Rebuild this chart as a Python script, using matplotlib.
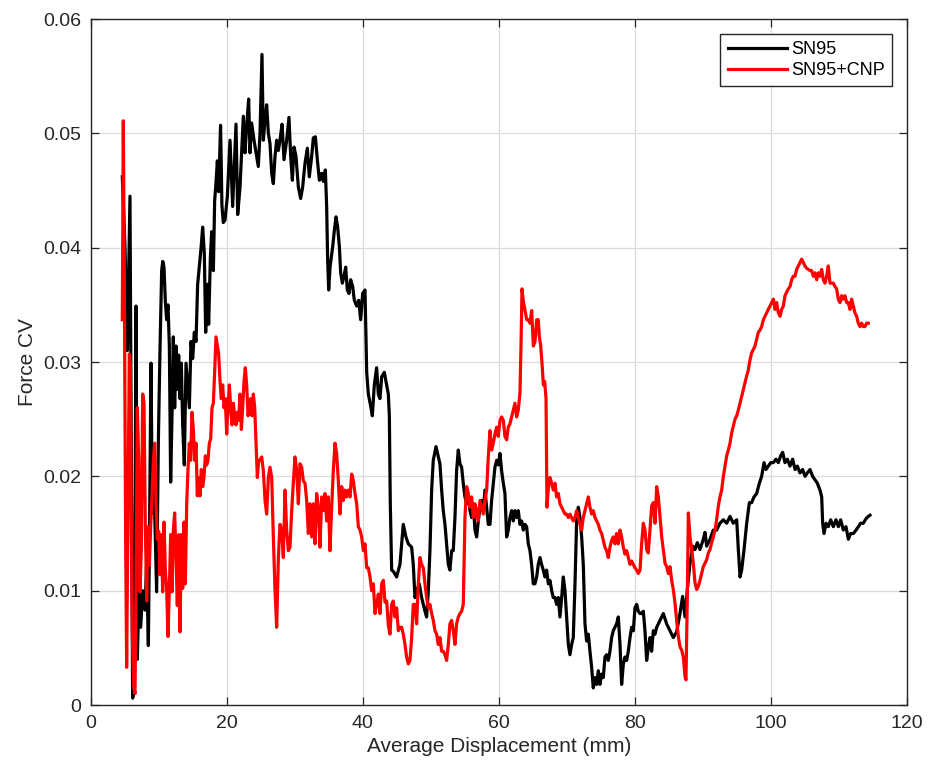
import matplotlib
matplotlib.use("Agg")
import matplotlib.pyplot as plt
import numpy as np

plt.rcParams['font.family'] = ['Liberation Sans', 'DejaVu Sans']

# (displacement mm, force CV)
sn95 = [
    (4.65, 0.0462), (5.05, 0.0400), (5.39, 0.0310), (5.78, 0.0445), (6.03, 0.0150), (6.17, 0.0006),
    (6.42, 0.0014), (6.66, 0.0349), (6.86, 0.0040), (7.11, 0.0100), (7.35, 0.0068), (7.65, 0.0100),
    (7.99, 0.0083), (8.23, 0.0125), (8.48, 0.0052), (8.63, 0.0137), (8.87, 0.0299), (9.07, 0.0168),
    (9.31, 0.0195), (9.70, 0.0099), (9.95, 0.0230), (10.19, 0.0310), (10.44, 0.0380), (10.60, 0.0388),
    (10.78, 0.0383), (10.98, 0.0353), (11.17, 0.0337), (11.37, 0.0350), (11.57, 0.0314), (11.76, 0.0195),
    (11.96, 0.0253), (12.15, 0.0322), (12.35, 0.0260), (12.55, 0.0314), (12.74, 0.0276), (12.94, 0.0306),
    (13.14, 0.0268), (13.33, 0.0299), (13.53, 0.0245), (13.77, 0.0210), (14.02, 0.0299), (14.26, 0.0280),
    (14.51, 0.0260), (14.75, 0.0318), (15.00, 0.0303), (15.24, 0.0326), (15.49, 0.0318), (15.73, 0.0368),
    (15.98, 0.0384), (16.22, 0.0399), (16.47, 0.0418), (16.71, 0.0395), (16.91, 0.0326), (17.15, 0.0368),
    (17.35, 0.0333), (17.60, 0.0391), (17.79, 0.0414), (18.04, 0.0380), (18.23, 0.0441), (18.43, 0.0457),
    (18.63, 0.0476), (18.82, 0.0449), (19.10, 0.0507), (19.30, 0.0437), (19.50, 0.0422), (19.75, 0.0424),
    (20.10, 0.0445), (20.49, 0.0494), (20.88, 0.0436), (21.37, 0.0508), (21.62, 0.0429), (21.96, 0.0453),
    (22.45, 0.0515), (22.69, 0.0483), (22.94, 0.0506), (23.23, 0.0530), (23.43, 0.0483), (23.67, 0.0509),
    (24.02, 0.0494), (24.41, 0.0480), (24.65, 0.0471), (24.90, 0.0500), (25.19, 0.0569), (25.39, 0.0494),
    (25.64, 0.0512), (25.88, 0.0525), (26.13, 0.0500), (26.37, 0.0491), (26.62, 0.0465), (26.86, 0.0456),
    (27.11, 0.0480), (27.35, 0.0494), (27.60, 0.0485), (27.84, 0.0494), (28.14, 0.0508), (28.43, 0.0477),
    (28.82, 0.0494), (29.16, 0.0514), (29.41, 0.0480), (29.66, 0.0459), (29.90, 0.0488), (30.19, 0.0480),
    (30.54, 0.0453), (30.88, 0.0443), (31.17, 0.0453), (31.52, 0.0474), (31.86, 0.0487), (32.15, 0.0462),
    (32.50, 0.0480), (32.74, 0.0496), (33.04, 0.0497), (33.33, 0.0477), (33.63, 0.0459), (33.97, 0.0465),
    (34.21, 0.0458), (34.51, 0.0468), (34.70, 0.0436), (34.85, 0.0389), (35.00, 0.0363), (35.20, 0.0383),
    (35.59, 0.0401), (35.83, 0.0415), (36.08, 0.0427), (36.32, 0.0418), (36.57, 0.0401), (36.76, 0.0378),
    (37.01, 0.0369), (37.25, 0.0375), (37.50, 0.0383), (37.74, 0.0363), (37.99, 0.0360), (38.23, 0.0372),
    (38.53, 0.0366), (38.77, 0.0354), (39.12, 0.0349), (39.41, 0.0354), (39.70, 0.0337), (40.00, 0.0360),
    (40.34, 0.0363), (40.59, 0.0291), (40.83, 0.0272), (41.22, 0.0260), (41.42, 0.0253), (41.71, 0.0280),
    (42.05, 0.0295), (42.30, 0.0272), (42.54, 0.0268), (42.79, 0.0287), (43.18, 0.0291), (43.53, 0.0280),
    (43.77, 0.0272), (43.92, 0.0253), (44.06, 0.0176), (44.26, 0.0118), (44.50, 0.0117), (44.99, 0.0112),
    (45.48, 0.0123), (45.97, 0.0158), (46.36, 0.0147), (46.71, 0.0141), (47.20, 0.0138), (47.44, 0.0123),
    (47.69, 0.0094), (47.93, 0.0100), (48.32, 0.0106), (48.67, 0.0094), (49.16, 0.0082), (49.40, 0.0077),
    (49.65, 0.0100), (49.89, 0.0135), (50.14, 0.0188), (50.38, 0.0214), (50.78, 0.0226), (51.12, 0.0217),
    (51.36, 0.0211), (51.61, 0.0188), (51.85, 0.0170), (52.10, 0.0158), (52.34, 0.0141), (52.59, 0.0123),
    (52.83, 0.0118), (53.08, 0.0135), (53.32, 0.0135), (53.57, 0.0164), (53.81, 0.0205), (54.06, 0.0223),
    (54.30, 0.0211), (54.55, 0.0208), (54.79, 0.0194), (55.04, 0.0182), (55.29, 0.0176), (55.53, 0.0185),
    (55.78, 0.0170), (56.02, 0.0164), (56.27, 0.0176), (56.51, 0.0153), (56.76, 0.0147), (57.00, 0.0161),
    (57.25, 0.0173), (57.49, 0.0179), (57.74, 0.0170), (57.98, 0.0188), (58.23, 0.0173), (58.47, 0.0158),
    (58.72, 0.0158), (58.96, 0.0179), (59.21, 0.0194), (59.45, 0.0208), (59.70, 0.0214), (59.94, 0.0210),
    (60.19, 0.0220), (60.43, 0.0205), (60.68, 0.0194), (60.92, 0.0185), (61.17, 0.0147), (61.41, 0.0153),
    (61.66, 0.0164), (61.90, 0.0170), (62.15, 0.0161), (62.39, 0.0170), (62.64, 0.0164), (62.88, 0.0170),
    (63.13, 0.0158), (63.37, 0.0161), (63.62, 0.0153), (63.86, 0.0158), (64.11, 0.0156), (64.35, 0.0141),
    (64.60, 0.0135), (64.84, 0.0123), (65.09, 0.0106), (65.33, 0.0106), (65.58, 0.0112), (65.82, 0.0123),
    (66.07, 0.0129), (66.31, 0.0123), (66.56, 0.0118), (66.80, 0.0112), (67.05, 0.0118), (67.30, 0.0106),
    (67.54, 0.0109), (67.79, 0.0100), (68.03, 0.0094), (68.28, 0.0094), (68.52, 0.0088), (68.77, 0.0094),
    (69.01, 0.0077), (69.26, 0.0094), (69.50, 0.0112), (69.75, 0.0100), (69.99, 0.0077), (70.24, 0.0053),
    (70.48, 0.0044), (70.73, 0.0053), (70.97, 0.0059), (71.22, 0.0106), (71.46, 0.0161), (71.71, 0.0173),
    (71.95, 0.0164), (72.20, 0.0147), (72.44, 0.0123), (72.69, 0.0071), (72.93, 0.0056), (73.18, 0.0062),
    (73.42, 0.0047), (73.67, 0.0033), (73.91, 0.0015), (74.16, 0.0024), (74.40, 0.0018), (74.65, 0.0030),
    (74.89, 0.0018), (75.14, 0.0027), (75.38, 0.0024), (75.63, 0.0042), (75.87, 0.0044), (76.12, 0.0039),
    (76.36, 0.0047), (76.61, 0.0059), (76.85, 0.0065), (77.10, 0.0068), (77.34, 0.0071), (77.59, 0.0077),
    (77.84, 0.0053), (78.08, 0.0018), (78.33, 0.0036), (78.57, 0.0042), (78.82, 0.0039), (79.06, 0.0047),
    (79.31, 0.0059), (79.55, 0.0068), (79.80, 0.0065), (80.04, 0.0085), (80.29, 0.0088), (80.53, 0.0082),
    (80.78, 0.0080), (81.02, 0.0080), (81.27, 0.0082), (81.51, 0.0065), (81.76, 0.0039), (82.00, 0.0050),
    (82.25, 0.0059), (82.49, 0.0047), (82.74, 0.0065), (82.98, 0.0062), (83.23, 0.0068), (83.72, 0.0074),
    (84.21, 0.0080), (84.70, 0.0071), (85.19, 0.0065), (85.68, 0.0059), (86.17, 0.0064), (86.66, 0.0080),
    (87.05, 0.0095), (87.40, 0.0077), (87.74, 0.0101), (88.13, 0.0124), (88.53, 0.0139), (88.87, 0.0136),
    (89.21, 0.0142), (89.60, 0.0136), (90.09, 0.0145), (90.34, 0.0151), (90.58, 0.0139), (91.07, 0.0145),
    (91.56, 0.0153), (92.05, 0.0153), (92.54, 0.0159), (93.04, 0.0162), (93.53, 0.0159), (94.02, 0.0165),
    (94.51, 0.0159), (95.00, 0.0162), (95.24, 0.0136), (95.49, 0.0112), (95.73, 0.0118), (96.08, 0.0136),
    (96.47, 0.0159), (96.86, 0.0177), (97.20, 0.0177), (97.54, 0.0182), (97.94, 0.0185), (98.33, 0.0194),
    (98.67, 0.0200), (99.02, 0.0212), (99.31, 0.0206), (99.65, 0.0209), (100.00, 0.0212), (100.39, 0.0212),
    (100.78, 0.0215), (101.12, 0.0212), (101.47, 0.0218), (101.76, 0.0221), (102.10, 0.0212), (102.45, 0.0215),
    (102.84, 0.0209), (103.23, 0.0215), (103.58, 0.0206), (103.92, 0.0209), (104.31, 0.0203), (104.70, 0.0206),
    (105.05, 0.0200), (105.39, 0.0203), (105.78, 0.0206), (106.17, 0.0200), (106.52, 0.0197), (106.86, 0.0194),
    (107.25, 0.0188), (107.50, 0.0182), (107.64, 0.0159), (107.84, 0.0150), (108.14, 0.0159), (108.48, 0.0156),
    (108.82, 0.0162), (109.21, 0.0156), (109.60, 0.0162), (109.95, 0.0156), (110.29, 0.0162), (110.68, 0.0153),
    (111.07, 0.0156), (111.42, 0.0145), (111.76, 0.0150), (112.15, 0.0150), (112.55, 0.0153), (112.89, 0.0156),
    (113.23, 0.0159), (113.62, 0.0159), (114.02, 0.0163), (114.36, 0.0165), (114.60, 0.0166),
]

sn95_cnp = [
    (4.65, 0.0337), (4.80, 0.0511), (4.95, 0.0368), (5.15, 0.0137), (5.29, 0.0033), (5.49, 0.0176),
    (5.68, 0.0307), (5.83, 0.0299), (5.98, 0.0152), (6.13, 0.0060), (6.35, 0.0015), (6.52, 0.0010),
    (6.66, 0.0099), (6.86, 0.0260), (7.06, 0.0214), (7.25, 0.0099), (7.45, 0.0137), (7.65, 0.0272),
    (7.84, 0.0264), (8.04, 0.0156), (8.23, 0.0091), (8.43, 0.0156), (8.63, 0.0122), (8.82, 0.0156),
    (9.02, 0.0183), (9.21, 0.0214), (9.41, 0.0229), (9.61, 0.0176), (9.80, 0.0145), (10.00, 0.0152),
    (10.19, 0.0114), (10.39, 0.0149), (10.59, 0.0099), (10.78, 0.0160), (10.98, 0.0118), (11.17, 0.0102),
    (11.37, 0.0060), (11.57, 0.0102), (11.76, 0.0149), (11.96, 0.0099), (12.15, 0.0152), (12.35, 0.0168),
    (12.55, 0.0129), (12.74, 0.0087), (12.94, 0.0149), (13.14, 0.0064), (13.33, 0.0149), (13.53, 0.0102),
    (13.72, 0.0160), (13.92, 0.0106), (14.12, 0.0176), (14.31, 0.0206), (14.51, 0.0229), (14.70, 0.0214),
    (14.90, 0.0256), (15.10, 0.0241), (15.29, 0.0214), (15.49, 0.0229), (15.68, 0.0183), (15.88, 0.0199),
    (16.08, 0.0183), (16.27, 0.0206), (16.47, 0.0191), (16.66, 0.0199), (16.86, 0.0218), (17.06, 0.0210),
    (17.25, 0.0214), (17.45, 0.0229), (17.65, 0.0233), (17.84, 0.0260), (18.04, 0.0264), (18.23, 0.0291),
    (18.43, 0.0322), (18.63, 0.0314), (18.82, 0.0307), (19.02, 0.0283), (19.21, 0.0268), (19.41, 0.0280),
    (19.61, 0.0260), (19.80, 0.0268), (20.00, 0.0237), (20.19, 0.0260), (20.39, 0.0280), (20.59, 0.0260),
    (20.78, 0.0245), (20.98, 0.0264), (21.18, 0.0253), (21.37, 0.0245), (21.57, 0.0256), (21.76, 0.0249),
    (21.96, 0.0272), (22.16, 0.0241), (22.35, 0.0260), (22.55, 0.0283), (22.74, 0.0295), (22.94, 0.0280),
    (23.14, 0.0253), (23.33, 0.0260), (23.53, 0.0268), (23.73, 0.0253), (23.92, 0.0272), (24.12, 0.0260),
    (24.31, 0.0229), (24.51, 0.0199), (24.70, 0.0214), (24.90, 0.0214), (25.15, 0.0217), (25.39, 0.0205),
    (25.64, 0.0179), (25.88, 0.0167), (26.13, 0.0199), (26.37, 0.0208), (26.62, 0.0199), (26.86, 0.0147),
    (27.11, 0.0100), (27.35, 0.0068), (27.60, 0.0129), (27.84, 0.0158), (28.09, 0.0153), (28.33, 0.0129),
    (28.58, 0.0188), (28.82, 0.0153), (29.07, 0.0135), (29.31, 0.0138), (29.56, 0.0170), (29.80, 0.0194),
    (30.05, 0.0217), (30.29, 0.0205), (30.54, 0.0176), (30.78, 0.0211), (31.03, 0.0208), (31.27, 0.0196),
    (31.52, 0.0194), (31.76, 0.0179), (32.01, 0.0150), (32.25, 0.0176), (32.50, 0.0147), (32.74, 0.0176),
    (32.99, 0.0141), (33.23, 0.0185), (33.48, 0.0173), (33.72, 0.0138), (33.97, 0.0182), (34.21, 0.0170),
    (34.46, 0.0185), (34.70, 0.0161), (34.95, 0.0182), (35.19, 0.0135), (35.44, 0.0173), (35.68, 0.0205),
    (35.93, 0.0229), (36.17, 0.0220), (36.42, 0.0196), (36.66, 0.0167), (36.91, 0.0191), (37.15, 0.0179),
    (37.40, 0.0188), (37.65, 0.0182), (37.89, 0.0188), (38.14, 0.0182), (38.38, 0.0202), (38.63, 0.0196),
    (38.87, 0.0185), (39.12, 0.0176), (39.36, 0.0156), (39.61, 0.0153), (39.85, 0.0147), (40.10, 0.0135),
    (40.34, 0.0141), (40.59, 0.0120), (40.83, 0.0120), (41.08, 0.0112), (41.32, 0.0100), (41.57, 0.0106),
    (41.81, 0.0080), (42.06, 0.0088), (42.30, 0.0097), (42.55, 0.0080), (42.79, 0.0106), (43.04, 0.0109),
    (43.28, 0.0090), (43.53, 0.0091), (43.77, 0.0070), (44.01, 0.0062), (44.26, 0.0088), (44.50, 0.0091),
    (44.75, 0.0077), (44.99, 0.0085), (45.24, 0.0065), (45.48, 0.0068), (45.73, 0.0068), (45.97, 0.0062),
    (46.22, 0.0053), (46.46, 0.0042), (46.71, 0.0036), (46.95, 0.0039), (47.20, 0.0059), (47.44, 0.0088),
    (47.69, 0.0088), (47.93, 0.0071), (48.18, 0.0106), (48.42, 0.0129), (48.67, 0.0123), (48.91, 0.0120),
    (49.16, 0.0106), (49.40, 0.0094), (49.65, 0.0085), (49.89, 0.0088), (50.14, 0.0080), (50.38, 0.0074),
    (50.63, 0.0065), (50.87, 0.0062), (51.12, 0.0053), (51.36, 0.0059), (51.61, 0.0047), (51.85, 0.0047),
    (52.10, 0.0044), (52.34, 0.0039), (52.59, 0.0053), (52.83, 0.0071), (53.08, 0.0074), (53.32, 0.0065),
    (53.57, 0.0053), (53.81, 0.0071), (54.06, 0.0077), (54.30, 0.0080), (54.55, 0.0082), (54.79, 0.0088),
    (55.04, 0.0164), (55.29, 0.0191), (55.53, 0.0185), (55.78, 0.0173), (56.02, 0.0182), (56.27, 0.0164),
    (56.51, 0.0176), (56.76, 0.0170), (57.00, 0.0161), (57.25, 0.0179), (57.49, 0.0173), (57.74, 0.0167),
    (57.98, 0.0179), (58.23, 0.0188), (58.47, 0.0217), (58.72, 0.0240), (58.96, 0.0223), (59.21, 0.0229),
    (59.45, 0.0237), (59.70, 0.0243), (59.94, 0.0235), (60.19, 0.0249), (60.43, 0.0252), (60.68, 0.0249),
    (60.92, 0.0235), (61.17, 0.0232), (61.41, 0.0243), (61.66, 0.0246), (61.90, 0.0252), (62.15, 0.0258),
    (62.39, 0.0264), (62.64, 0.0252), (62.88, 0.0258), (63.13, 0.0273), (63.30, 0.0320), (63.43, 0.0364),
    (63.63, 0.0353), (63.87, 0.0345), (64.12, 0.0337), (64.36, 0.0337), (64.61, 0.0334), (64.85, 0.0345),
    (65.10, 0.0314), (65.34, 0.0318), (65.59, 0.0337), (65.83, 0.0337), (65.98, 0.0322), (66.18, 0.0314),
    (66.37, 0.0299), (66.57, 0.0280), (66.76, 0.0283), (66.96, 0.0268), (67.10, 0.0173), (67.30, 0.0190),
    (67.54, 0.0199), (67.79, 0.0194), (68.03, 0.0188), (68.28, 0.0194), (68.52, 0.0182), (68.77, 0.0185),
    (69.01, 0.0176), (69.26, 0.0173), (69.50, 0.0170), (69.75, 0.0167), (69.99, 0.0167), (70.24, 0.0164),
    (70.48, 0.0167), (70.73, 0.0164), (70.97, 0.0161), (71.22, 0.0164), (71.46, 0.0170), (71.71, 0.0164),
    (71.95, 0.0158), (72.20, 0.0153), (72.44, 0.0164), (72.69, 0.0170), (72.93, 0.0176), (73.18, 0.0182),
    (73.42, 0.0173), (73.67, 0.0167), (73.91, 0.0170), (74.16, 0.0164), (74.40, 0.0161), (74.65, 0.0158),
    (74.89, 0.0153), (75.14, 0.0150), (75.38, 0.0144), (75.63, 0.0138), (75.87, 0.0135), (76.12, 0.0129),
    (76.36, 0.0138), (76.61, 0.0144), (76.85, 0.0147), (77.10, 0.0141), (77.34, 0.0150), (77.59, 0.0141),
    (77.84, 0.0153), (78.08, 0.0147), (78.33, 0.0138), (78.57, 0.0132), (78.82, 0.0135), (79.06, 0.0129),
    (79.31, 0.0123), (79.55, 0.0126), (79.80, 0.0123), (80.04, 0.0120), (80.29, 0.0118), (80.53, 0.0115),
    (80.78, 0.0118), (81.02, 0.0141), (81.27, 0.0159), (81.51, 0.0153), (81.76, 0.0136), (82.00, 0.0133),
    (82.25, 0.0153), (82.50, 0.0174), (82.74, 0.0177), (82.99, 0.0159), (83.23, 0.0191), (83.48, 0.0182),
    (83.72, 0.0165), (83.97, 0.0147), (84.21, 0.0136), (84.46, 0.0124), (84.70, 0.0121), (84.95, 0.0115),
    (85.19, 0.0121), (85.44, 0.0109), (85.68, 0.0101), (85.93, 0.0089), (86.17, 0.0074), (86.42, 0.0060),
    (86.66, 0.0051), (86.91, 0.0048), (87.15, 0.0042), (87.40, 0.0025), (87.54, 0.0022), (87.74, 0.0095),
    (87.89, 0.0168), (88.13, 0.0147), (88.38, 0.0136), (88.62, 0.0124), (88.87, 0.0107), (89.11, 0.0101),
    (89.36, 0.0104), (89.60, 0.0109), (89.85, 0.0115), (90.09, 0.0121), (90.34, 0.0124), (90.58, 0.0127),
    (90.83, 0.0133), (91.07, 0.0136), (91.32, 0.0142), (91.56, 0.0147), (91.81, 0.0153), (92.05, 0.0162),
    (92.30, 0.0174), (92.54, 0.0182), (92.79, 0.0188), (93.04, 0.0200), (93.28, 0.0209), (93.53, 0.0218),
    (93.77, 0.0223), (94.02, 0.0229), (94.26, 0.0238), (94.51, 0.0244), (94.75, 0.0250), (95.00, 0.0253),
    (95.24, 0.0258), (95.49, 0.0264), (95.73, 0.0270), (95.98, 0.0276), (96.22, 0.0282), (96.47, 0.0288),
    (96.71, 0.0293), (96.96, 0.0302), (97.20, 0.0308), (97.45, 0.0311), (97.69, 0.0314), (97.94, 0.0320),
    (98.18, 0.0326), (98.43, 0.0328), (98.67, 0.0331), (98.92, 0.0337), (99.16, 0.0340), (99.41, 0.0343),
    (99.65, 0.0346), (99.90, 0.0349), (100.14, 0.0352), (100.39, 0.0355), (100.63, 0.0346), (100.88, 0.0352),
    (101.12, 0.0343), (101.37, 0.0340), (101.61, 0.0346), (101.86, 0.0349), (102.10, 0.0358), (102.35, 0.0361),
    (102.59, 0.0364), (102.84, 0.0366), (103.08, 0.0372), (103.33, 0.0375), (103.57, 0.0375), (103.82, 0.0381),
    (104.06, 0.0384), (104.31, 0.0387), (104.55, 0.0390), (104.80, 0.0387), (105.04, 0.0384), (105.29, 0.0382),
    (105.53, 0.0381), (105.78, 0.0380), (106.02, 0.0380), (106.27, 0.0375), (106.51, 0.0378), (106.76, 0.0372),
    (107.00, 0.0378), (107.25, 0.0375), (107.49, 0.0381), (107.74, 0.0372), (107.98, 0.0369), (108.23, 0.0375),
    (108.47, 0.0384), (108.72, 0.0369), (108.96, 0.0369), (109.21, 0.0369), (109.45, 0.0366), (109.70, 0.0364),
    (109.94, 0.0355), (110.19, 0.0352), (110.43, 0.0358), (110.68, 0.0355), (110.92, 0.0358), (111.17, 0.0352),
    (111.41, 0.0352), (111.66, 0.0346), (111.90, 0.0355), (112.15, 0.0349), (112.39, 0.0343), (112.64, 0.0340),
    (112.88, 0.0334), (113.13, 0.0331), (113.37, 0.0334), (113.62, 0.0331), (113.86, 0.0331), (114.11, 0.0334),
    (114.35, 0.0334),
]

series_names = ['SN95', 'SN95+CNP']
series_colors = ['black', 'red']
x_ticks = [0, 20, 40, 60, 80, 100, 120]
y_ticks = [0, 0.01, 0.02, 0.03, 0.04, 0.05, 0.06]
y_tick_labels = ['0', '0.01', '0.02', '0.03', '0.04', '0.05', '0.06']

fig = plt.figure(figsize=(9.31, 7.67), dpi=100)
ax = fig.add_axes([0.0974, 0.0808, 0.8765, 0.8944])

for data, name, color in zip([sn95, sn95_cnp], series_names, series_colors):
    xy = np.array(data)
    ax.plot(xy[:, 0], xy[:, 1], color=color, linewidth=2.3, label=name)

ax.set_xlim(0, 120)
ax.set_ylim(0, 0.06)
ax.set_xticks(x_ticks)
ax.set_yticks(y_ticks)
ax.set_yticklabels(y_tick_labels)

ax.grid(True, color='#dcdcdc', linewidth=0.9)
ax.set_axisbelow(True)
for spine in ax.spines.values():
    spine.set_color('#262626')
    spine.set_linewidth(1.0)
ax.tick_params(direction='in', top=True, right=True, length=6, width=0.9,
               colors='#262626', labelsize=14, pad=7)

ax.set_xlabel('Average Displacement (mm)', fontsize=15, color='#262626')
ax.set_ylabel('Force CV', fontsize=15, color='#262626')

leg = ax.legend(loc='upper right', bbox_to_anchor=(1 - 15 / 816, 1 - 15 / 686),
                borderaxespad=0, fancybox=False, framealpha=1, fontsize=13,
                handlelength=3.3, handletextpad=0.2, borderpad=0.4, labelspacing=0.2)
leg.get_frame().set_edgecolor('#262626')
leg.get_frame().set_linewidth(1.0)

fig.savefig('out.png', dpi=100)
